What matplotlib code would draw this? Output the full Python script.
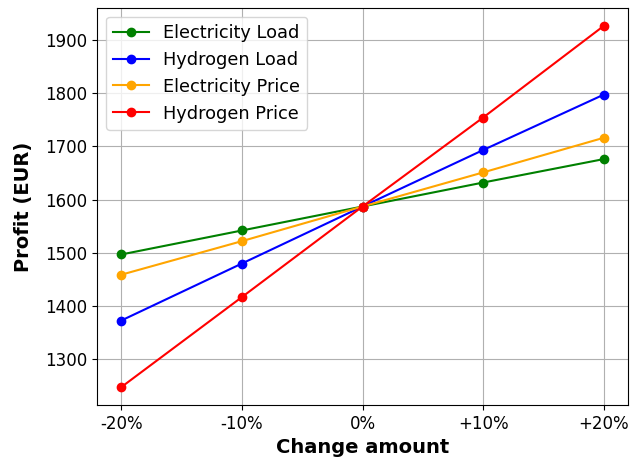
import matplotlib
matplotlib.use("Agg")
import matplotlib.pyplot as plt

changes = ["-20%", "-10%", "0%", "+10%", "+20%"]
elec_load = [1497, 1542, 1587, 1632, 1676]
h2_load = [1373, 1480, 1587, 1693, 1797]
elec_price = [1459, 1522, 1587, 1651, 1716]
h2_price = [1248, 1417, 1587, 1754, 1926]

fig = plt.figure(figsize=(6.31, 4.62), dpi=100)
ax = fig.add_axes([0.154, 0.123, 0.841, 0.860])

x = range(len(changes))
ax.plot(x, elec_load, marker="o", color="green", label="Electricity Load")
ax.plot(x, h2_load, marker="o", color="blue", label="Hydrogen Load")
ax.plot(x, elec_price, marker="o", color="orange", label="Electricity Price")
ax.plot(x, h2_price, marker="o", color="red", label="Hydrogen Price")

ax.set_xticks(list(x))
ax.set_xticklabels(changes)
ax.tick_params(labelsize=12)
ax.set_xlabel("Change amount", fontsize=14, fontweight="bold")
ax.set_ylabel("Profit (EUR)", fontsize=14, fontweight="bold", labelpad=9)
ax.grid(True)
ax.legend(fontsize=12.8, loc="upper left")

fig.savefig("out.png", dpi=100)
